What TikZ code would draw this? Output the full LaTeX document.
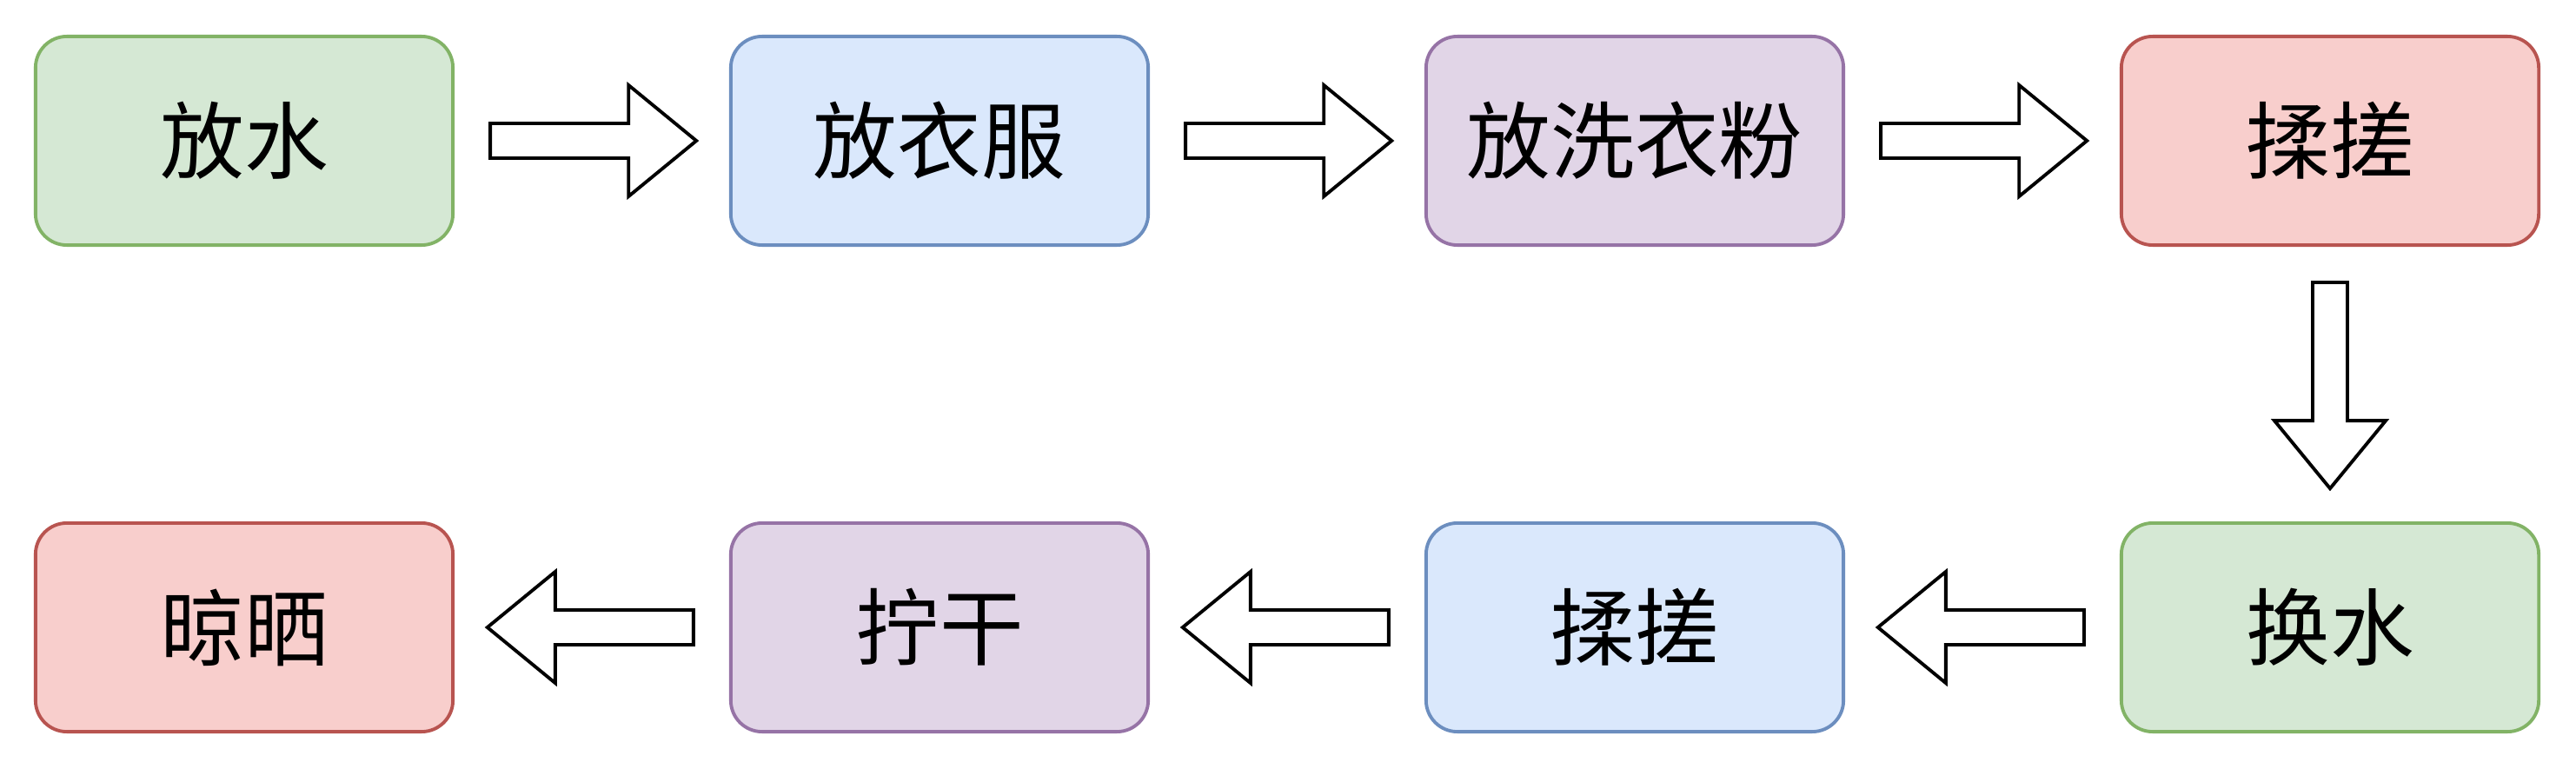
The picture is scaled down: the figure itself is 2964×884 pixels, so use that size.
\documentclass[tikz,border=0pt]{standalone}
\usepackage{fontspec}
\newfontfamily\cjk{Noto Sans CJK SC}
\usetikzlibrary{calc}
\definecolor{gfill}{HTML}{D5E8D4}\definecolor{gdraw}{HTML}{82B366}
\definecolor{bfill}{HTML}{DAE8FC}\definecolor{bdraw}{HTML}{6C8EBF}
\definecolor{pfill}{HTML}{E1D5E7}\definecolor{pdraw}{HTML}{9673A6}
\definecolor{rfill}{HTML}{F8CECC}\definecolor{rdraw}{HTML}{B85450}
\tikzset{
  box/.style={rectangle, rounded corners=0.36cm, minimum width=4.8cm, minimum height=2.4cm, line width=1.1pt, inner sep=0pt, font=\cjk\fontsize{27.5}{33}\selectfont},
  gbox/.style={box, fill=gfill, draw=gdraw},
  bbox/.style={box, fill=bfill, draw=bdraw},
  pbox/.style={box, fill=pfill, draw=pdraw},
  rbox/.style={box, fill=rfill, draw=rdraw},
  blockarr/.style={draw=black, fill=white, line width=1.1pt, line join=miter, to path={
    ($(\tikztostart)!0.41cm!(\tikztotarget)!0.2cm!90:(\tikztotarget)$) --
    ($(\tikztostart)!2.0cm!(\tikztotarget)!0.2cm!90:(\tikztotarget)$) --
    ($(\tikztostart)!2.0cm!(\tikztotarget)!0.64cm!90:(\tikztotarget)$) --
    ($(\tikztostart)!2.78cm!(\tikztotarget)$) --
    ($(\tikztostart)!2.0cm!(\tikztotarget)!0.64cm!-90:(\tikztotarget)$) --
    ($(\tikztostart)!2.0cm!(\tikztotarget)!0.2cm!-90:(\tikztotarget)$) --
    ($(\tikztostart)!0.41cm!(\tikztotarget)!0.2cm!-90:(\tikztotarget)$) -- cycle}}
}
\begin{document}
\begin{tikzpicture}[x=0.01cm,y=0.01cm]
\useasboundingbox (0,0) rectangle (2964,884);
\node[gbox] (a) at (281,722) {放水};
\node[bbox] (b) at (1081,722) {放衣服};
\node[pbox] (c) at (1881,722) {放洗衣粉};
\node[rbox] (d) at (2681,722) {揉搓};
\node[gbox] (e) at (2681,162) {换水};
\node[bbox] (f) at (1881,162) {揉搓};
\node[pbox] (g) at (1081,162) {拧干};
\node[rbox] (h) at (281,162) {晾晒};
\draw[blockarr] (a.east) to (b.west);
\draw[blockarr] (b.east) to (c.west);
\draw[blockarr] (c.east) to (d.west);
\draw[blockarr] (d.south) to (e.north);
\draw[blockarr] (e.west) to (f.east);
\draw[blockarr] (f.west) to (g.east);
\draw[blockarr] (g.west) to (h.east);
\end{tikzpicture}
\end{document}
